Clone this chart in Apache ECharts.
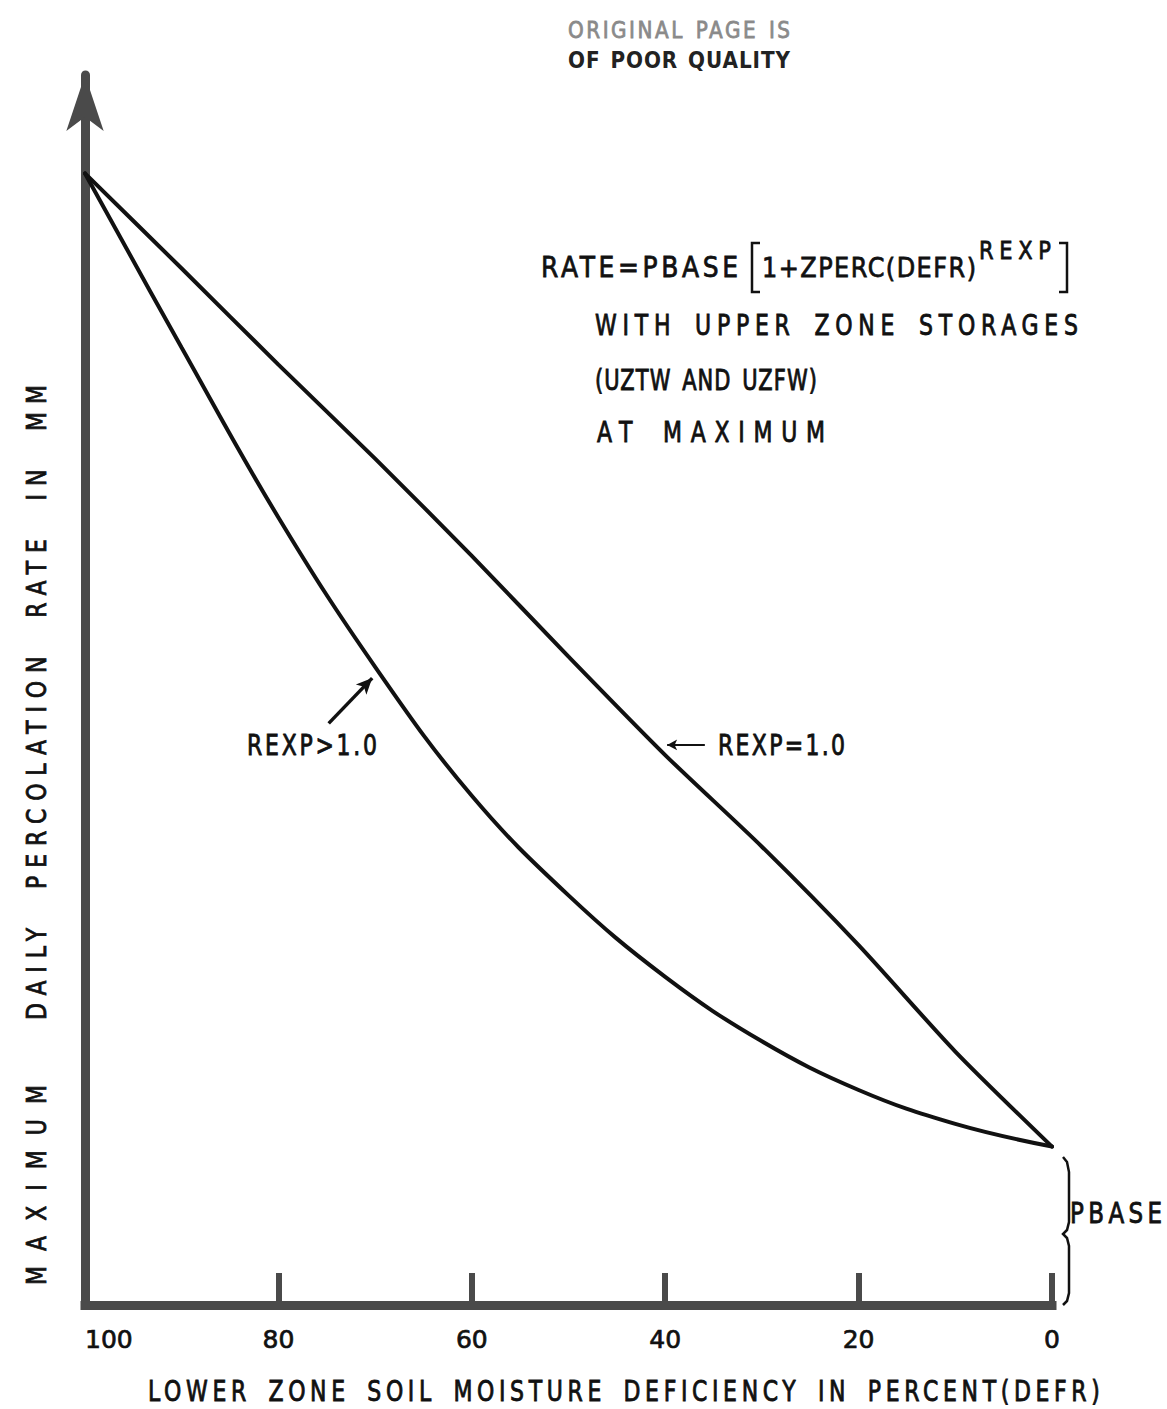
<!DOCTYPE html>
<html>
<head>
<meta charset="utf-8">
<script src="https://cdn.jsdelivr.net/npm/echarts@6/dist/echarts.min.js"></script>
<style>html,body{margin:0;padding:0;background:#fff}#c{width:1167px;height:1409px}</style>
</head>
<body>
<div id="c"></div>
<script>
// ---- data ----
const xTickValues = [100, 80, 60, 40, 20, 0];
// lower zone deficiency (DEFR, %) at which the curves were read
const defrPoints = [100, 90, 80, 70, 60, 50, 40, 30, 20, 10, 0];
// REXP = 1.0 (nearly straight line), rate in relative units (PBASE = 14)
const rateRexp1 = [100, 91.6, 83.1, 74.8, 66.2, 57.3, 48.6, 40.5, 31.8, 22.4, 14.0];
// REXP > 1.0 (convex curve)
const rateRexpGt1 = [100, 84.6, 69.6, 56.4, 45.0, 36.2, 29.0, 23.3, 19.0, 16.0, 14.0];

const FONT = '"DejaVu Sans"';
const INK = '#111';

// text blocks: [text, left, centerY, fontSize, targetWidth, wordSpacing, color, scaleY, weight]
const textBlocks = [
  ['ORIGINAL PAGE IS', 568, 30, 20, 222, 2, '#8a8a8a', 1.15, 'normal'],
  ['OF POOR QUALITY', 568, 60, 20, 222, 2, '#222', 1.15, 'bold'],
  ['RATE=PBASE', 541, 268, 25, 197, 0, INK, 1.1, 'normal'],
  ['1+ZPERC(DEFR)', 762, 268, 24, 214, 0, INK, 1.1, 'normal'],
  ['REXP', 979, 250, 21, 72, 0, INK, 1.15, 'normal'],
  ['WITH UPPER ZONE STORAGES', 595, 325, 22, 483, 6, INK, 1.3, 'normal'],
  ['(UZTW AND UZFW)', 595, 380, 21, 222, 3, INK, 1.35, 'normal'],
  ['AT MAXIMUM', 597, 432, 22, 228, 6, INK, 1.3, 'normal'],
  ['REXP>1.0', 247, 745, 22, 130, 0, INK, 1.3, 'normal'],
  ['REXP=1.0', 718, 745, 22, 127, 0, INK, 1.3, 'normal'],
  ['PBASE', 1070, 1213, 23, 92, 0, INK, 1.25, 'normal'],
  ['LOWER ZONE SOIL MOISTURE DEFICIENCY IN PERCENT(DEFR)', 148, 1392, 22, 952, 6, INK, 1.25, 'normal']
];
// rotated y title parts: [text, centerX, startY(bottom), fontSize, targetLength, wordSpacing]
const yTitleParts = [
  ['MAXIMUM', 37, 1285, 22, 200, 0],
  ['DAILY PERCOLATION RATE IN MM', 37, 1020, 22, 635, 16]
];

const spacing = {};
const graphics = [];
textBlocks.forEach(b => {
  spacing[b[0]] = { w: b[4], ws: b[5] };
  graphics.push({
    type: 'text', x: b[1], y: b[2], scaleY: b[7], silent: true,
    style: { text: b[0], fill: b[6], stroke: b[6], lineWidth: b[8] === 'bold' ? 0 : 0.7,
      font: b[8] + ' ' + b[3] + 'px ' + FONT, align: 'left', verticalAlign: 'middle' }
  });
});
yTitleParts.forEach(p => {
  spacing[p[0]] = { w: p[4], ws: p[5] };
  graphics.push({
    type: 'text', x: p[1], y: p[2], rotation: Math.PI / 2, scaleY: 1.2, silent: true,
    style: { text: p[0], fill: INK, stroke: INK, lineWidth: 0.7,
      font: p[3] + 'px ' + FONT, align: 'left', verticalAlign: 'middle' }
  });
});
// formula brackets
graphics.push({ type: 'polyline', silent: true, shape: { points: [[760, 243], [752, 243], [752, 292], [760, 292]] }, style: { stroke: INK, lineWidth: 2.5, fill: null } });
graphics.push({ type: 'polyline', silent: true, shape: { points: [[1059, 243], [1067, 243], [1067, 292], [1059, 292]] }, style: { stroke: INK, lineWidth: 2.5, fill: null } });
// PBASE brace
graphics.push({ type: 'polyline', silent: true,
  shape: { points: [[1063, 1157], [1067, 1162], [1069, 1172], [1069, 1222], [1067, 1230], [1063, 1234], [1067, 1238], [1069, 1246], [1069, 1293], [1067, 1301], [1063, 1305]] },
  style: { stroke: INK, lineWidth: 2.5, fill: null } });

const option = {
  animation: false,
  backgroundColor: '#fff',
  textStyle: { fontFamily: FONT },
  grid: { left: 85, right: 115, top: 75, bottom: 104, outerBoundsMode: 'none' },
  xAxis: {
    type: 'value', min: 0, max: 100, interval: 20, inverse: true,
    axisLine: { lineStyle: { color: '#4a4a4a', width: 9, cap: 'square' } },
    axisTick: { inside: true, length: 32, lineStyle: { color: '#4a4a4a', width: 6 } },
    axisLabel: {
      margin: 22, color: INK, fontSize: 25, fontFamily: FONT,
      textBorderColor: INK, textBorderWidth: 0.7,
      alignMaxLabel: 'left',
      formatter: v => (xTickValues.indexOf(v) >= 0 ? String(v) : '')
    },
    splitLine: { show: false }
  },
  yAxis: {
    type: 'value', min: 0, max: 108.7, position: 'left',
    axisLine: { show: true, onZero: false, symbol: ['none', 'arrow'], symbolSize: [28, 56],
      lineStyle: { color: '#4a4a4a', width: 9 } },
    axisTick: { show: false }, axisLabel: { show: false }, splitLine: { show: false }
  },
  series: [
    {
      name: 'REXP=1.0', type: 'line', showSymbol: false, smooth: 0.25,
      data: defrPoints.map((d, i) => [d, rateRexp1[i]]),
      lineStyle: { color: INK, width: 4, cap: 'round' },
      markLine: {
        silent: true, animation: false, symbol: ['none', 'arrow'], symbolSize: [8, 10],
        label: { show: false }, lineStyle: { color: INK, width: 2, type: 'solid' },
        data: [[{ coord: [35.9, 49.5] }, { coord: [39.8, 49.5] }]]
      }
    },
    {
      name: 'REXP>1.0', type: 'line', showSymbol: false, smooth: 0.4,
      data: defrPoints.map((d, i) => [d, rateRexpGt1[i]]),
      lineStyle: { color: INK, width: 4, cap: 'round' },
      markLine: {
        silent: true, animation: false, symbol: ['none', 'arrow'], symbolSize: [11, 16],
        label: { show: false }, lineStyle: { color: INK, width: 3.5, type: 'solid' },
        data: [[{ coord: [74.8, 51.4] }, { coord: [70.3, 55.4] }]]
      }
    }
  ],
  graphic: graphics
};

const dom = document.getElementById('c');
const chart = echarts.init(dom, null, { renderer: 'svg' });
chart.setOption(option);

function applySpacing() {
  dom.querySelectorAll('svg text').forEach(t => {
    const spec = spacing[t.textContent];
    if (!spec || t.getAttribute('data-sp')) return;
    const natural = t.getComputedTextLength();
    const txt = t.textContent;
    const nSp = (txt.match(/ /g) || []).length;
    let ls = (spec.w - natural - nSp * spec.ws) / Math.max(1, txt.length - 1);
    t.style.letterSpacing = ls.toFixed(2) + 'px';
    if (spec.ws) t.style.wordSpacing = spec.ws + 'px';
    t.setAttribute('data-sp', '1');
  });
}
chart.on('finished', applySpacing);
applySpacing();
setTimeout(applySpacing, 50);
setTimeout(applySpacing, 300);
</script>
</body>
</html>
